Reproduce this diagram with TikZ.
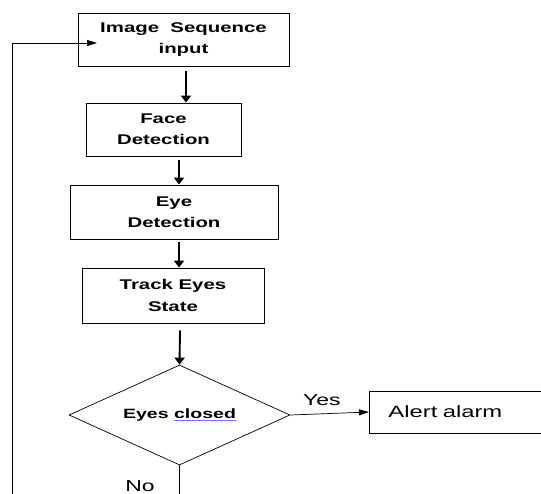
\documentclass[tikz,border=0pt]{standalone}
\usepackage{fontspec}
\setmainfont[FakeStretch=1.45]{Liberation Sans}
\usepackage{tikz}
\usetikzlibrary{shapes, shapes.geometric, arrows, arrows.meta}
\usepackage{xcolor}

\begin{document}
\begin{tikzpicture}[x=0.03cm, y=-0.03cm,
        box/.style={draw, line width=0.8pt, align=center, inner sep=0pt,
            font=\bfseries\fontsize{12}{18}\selectfont},
        flow/.style={-{Triangle[length=0.21cm, width=0.3cm]}, line width=1.6pt},
        thin flow/.style={-{Triangle[length=0.3cm, width=0.18cm]}, line width=0.6pt}]
            \useasboundingbox (0,0) rectangle (541,493);
            \clip (0,0) rectangle (541,493);

            \node[box, minimum width=6.33cm, minimum height=1.59cm] (n0) at (183.5, 39.5) {Image\ \ Sequence\\input};
            \node[box, minimum width=4.65cm, minimum height=1.59cm] (n1) at (163.5, 129.5) {Face\\Detection};
            \node[box, minimum width=6.24cm, minimum height=1.62cm] (n2) at (174, 212) {Eye\\Detection};
            \node[box, minimum width=5.46cm, minimum height=1.65cm] (n3) at (173, 295.5) {Track Eyes\\State};
            \node[draw, diamond, shape aspect=2.2, line width=0.6pt, inner sep=0pt, minimum width=6.63cm, minimum height=3cm,
                font=\bfseries\fontsize{11.5}{13}\selectfont] (n4) at (179.5, 415)
                {Eyes {\color{blue!55}\underline{\color{black}closed}}};
            \node[draw, line width=0.8pt, anchor=west, minimum height=1.26cm, text width=5cm,
                inner xsep=0.57cm, align=left, font=\fontsize{14}{16}\selectfont] (n5) at (369, 412) {Alert alarm};
            \node[font=\fontsize{13.5}{16}\selectfont] (no) at (140, 486) {No};
            \coordinate (in) at (97, 43);

            \draw[flow] (186,0 |- n0.south) ++(0,5) -- (186,0 |- n1.north);
            \draw[flow] (179,0 |- n1.south) ++(0,4) -- (179,0 |- n2.north);
            \draw[flow] (179,0 |- n2.south) ++(0,3) -- (179,0 |- n3.north);
            \draw[flow] (180,0 |- n3.south) ++(0,7) -- (n4.north);
            \draw[thin flow] (n4.east) -- node[pos=0.4, above=3pt, font=\fontsize{13.5}{16}\selectfont] {Yes} (n5.west);
            \draw[thin flow] (n4.south) |- (12, 510) |- (in);
    	\end{tikzpicture}
\end{document}
